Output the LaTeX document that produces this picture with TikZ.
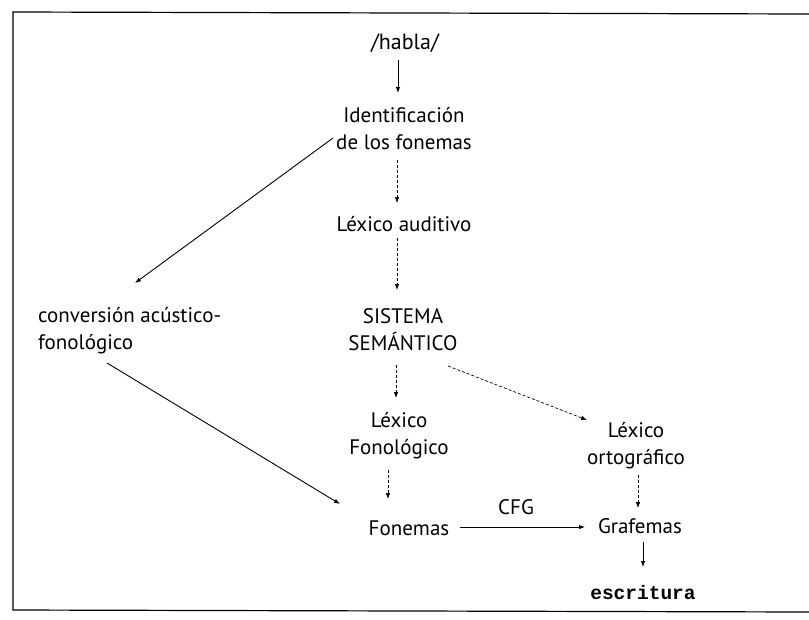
\documentclass[tikz,border=0pt]{standalone}
\usepackage{fontspec}
\setmainfont{PT Sans}
\newfontfamily\escfont{Liberation Mono}
\usetikzlibrary{arrows.meta,calc}
\begin{document}
\begin{tikzpicture}[x=1pt,y=-1pt,
  lbl/.style={inner sep=0pt,font=\fontsize{21}{27}\selectfont,align=center},
  solidarrow/.style={line width=0.9pt,-{Latex[length=6pt,width=4.5pt]}},
  dasharrow/.style={line width=0.7pt,dash pattern=on 3pt off 2pt,-{Latex[length=6pt,width=4.5pt]}}]
\useasboundingbox (0,0) rectangle (809,619);
\fill[white] (0,0) rectangle (809,619);
% frame
\draw[line width=1.2pt] (809,14) -- (13,12) -- (13,610) -- (809,612);
% nodes
\node[lbl,font=\fontsize{22}{24}\selectfont] (habla) at (405,43) {/habla/};
\node[lbl] (ident) at (404,129) {Identificación\\de los fonemas};
\node[lbl] (lexaud) at (404,224) {Léxico auditivo};
\node[lbl] (sem) at (403,330) {SISTEMA\\SEMÁNTICO};
\node[lbl] (lexfon) at (399,436) {Léxico\\Fonológico};
\node[lbl] (fon) at (409,528) {Fonemas};
\node[lbl] (cfg) at (516,507) {CFG};
\node[lbl] (graf) at (640,526) {Grafemas};
\node[lbl] (lexort) at (636,446) {Léxico\\ortográfico};
\node[lbl,align=left,anchor=west] (conv) at (38,331) {conversión acústico-\\fonológico};
\node[inner sep=0pt,font=\escfont\bfseries\fontsize{19.5}{22}\selectfont] (escr) at (643,593) {escritura};
% connectors
\draw[solidarrow] ($(habla.center)+(-7,17)$) -- ($(ident.center)+(-6,-36)$);
\draw[dasharrow] ($(ident.center)+(-7,31)$) -- ($(lexaud.center)+(-7,-21)$);
\draw[dasharrow] ($(lexaud.center)+(-7,14)$) -- ($(sem.center)+(-6,-40)$);
\draw[dasharrow] ($(sem.center)+(-7,35)$) -- ($(lexfon.center)+(-3,-38)$);
\draw[dasharrow] ($(lexfon.center)+(-11,34)$) -- ($(fon.center)+(-21,-29)$);
\draw[dasharrow] ($(sem.center)+(45,36)$) -- ($(lexort.center)+(-49,-26)$);
\draw[dasharrow] ($(lexort.center)+(2,29)$) -- ($(graf.center)+(-2,-18)$);
\draw[solidarrow] ($(graf.center)+(3,16)$) -- ($(escr.center)+(0,-26)$);
\draw[solidarrow] ($(fon.center)+(51,-1)$) -- ($(graf.center)+(-55,1)$);
\draw[solidarrow] ($(ident.center)+(-71,9)$) -- ($(conv.west)+(97,-48)$);
\draw[solidarrow] ($(conv.west)+(69,32)$) -- ($(fon.center)+(-69,-24)$);
\end{tikzpicture}
\end{document}
